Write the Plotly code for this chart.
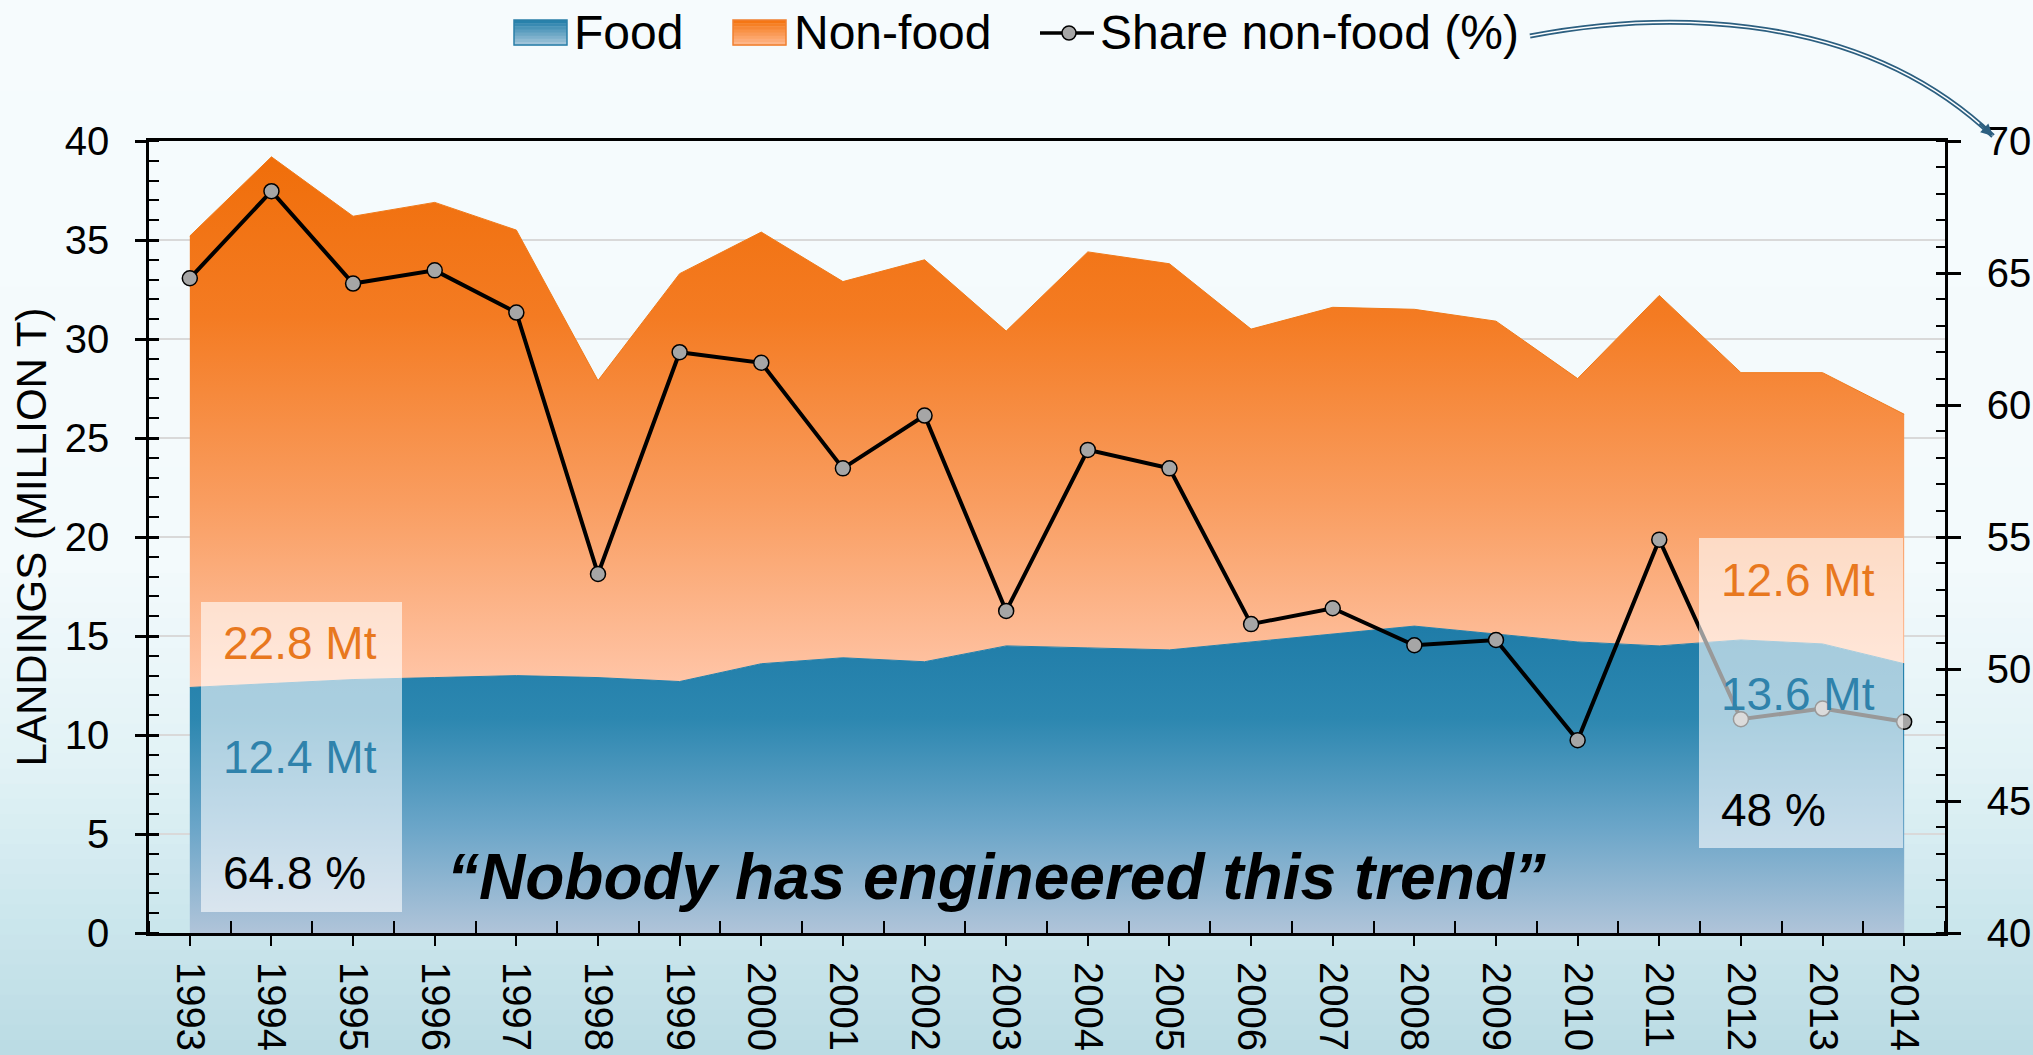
import plotly.graph_objects as go

# -----------------------------
# Data (million tonnes / %)
# -----------------------------
years = list(range(1993, 2015))
year_labels = [str(y) for y in years]

food = [12.4, 12.6, 12.8, 12.9, 13.0, 12.9, 12.7, 13.6, 13.9, 13.7, 14.5,
        14.4, 14.3, 14.7, 15.1, 15.5, 15.1, 14.7, 14.5, 14.8, 14.6, 13.6]
non_food = [22.8, 26.6, 23.4, 24.0, 22.5, 15.0, 20.6, 21.8, 19.0, 20.3, 15.9,
            20.0, 19.5, 15.8, 16.5, 16.0, 15.8, 13.3, 17.7, 13.5, 13.7, 12.6]
share_non_food = [64.8, 68.1, 64.6, 65.1, 63.5, 53.6, 62.0, 61.6, 57.6, 59.6, 52.2,
                  58.3, 57.6, 51.7, 52.3, 50.9, 51.1, 47.3, 54.9, 48.1, 48.5, 48.0]

FONT = "Liberation Sans"
ORANGE_TXT = "#E8781E"
BLUE_TXT = "#2F82AB"
ARROW = "#2C5F80"

W, H = 2033, 1055
ML, MR, MT, MB = 149, 88, 141, 122
PW, PH = W - ML - MR, H - MT - MB


def px_x(x):
    return (x - ML) / PW


def px_y(y):
    return (H - MB - y) / PH


def lerp_rgb(c0, c1, t):
    return "rgb(%d,%d,%d)" % tuple(round(a + (b - a) * t) for a, b in zip(c0, c1))


fig = go.Figure()

# -----------------------------
# Stacked areas
# -----------------------------
fig.add_trace(go.Scatter(
    x=years, y=food, name="Food", stackgroup="one", mode="lines",
    line=dict(width=1, color="#2380AB"), showlegend=False,
    fillgradient=dict(type="vertical", start=0, stop=15.5,
                      colorscale=[[0, "#B0C4D9"], [0.35, "#6AA5C8"],
                                  [0.7, "#2C87B0"], [1, "#1F7CA8"]]),
))
fig.add_trace(go.Scatter(
    x=years, y=non_food, name="Non-food", stackgroup="one", mode="lines",
    line=dict(width=1, color="#F07A1A"), showlegend=False,
    fillgradient=dict(type="vertical", start=12.4, stop=39.2,
                      colorscale=[[0, "#FFC6A9"], [0.35, "#F99D60"],
                                  [0.7, "#F47B22"], [1, "#F06E0A"]]),
))

# -----------------------------
# Share line (right axis)
# -----------------------------
fig.add_trace(go.Scatter(
    x=years, y=share_non_food, name="Share non-food (%)", yaxis="y2",
    mode="lines+markers", showlegend=False,
    line=dict(color="black", width=4),
    marker=dict(size=15, color="#A6A6A6", line=dict(color="black", width=1.5)),
))

# invisible traces so the "crossing" major tick halves get drawn
fig.add_trace(go.Scatter(x=[None], y=[None], yaxis="y3", showlegend=False, hoverinfo="skip"))
fig.add_trace(go.Scatter(x=[None], y=[None], yaxis="y4", showlegend=False, hoverinfo="skip"))

# -----------------------------
# Background gradient bands
# -----------------------------
stops = [(0, (246, 251, 253)), (560, (243, 250, 252)), (760, (226, 242, 246)),
         (900, (206, 232, 238)), (1055, (186, 219, 228))]


def bg_color(y):
    for (y0, c0), (y1, c1) in zip(stops[:-1], stops[1:]):
        if y0 <= y <= y1:
            return lerp_rgb(c0, c1, (y - y0) / (y1 - y0))
    return lerp_rgb(stops[-1][1], stops[-1][1], 0)


shapes = []
n_bands = 70
for i in range(n_bands):
    y0 = H * i / n_bands
    y1 = H * (i + 1) / n_bands + 1
    shapes.append(dict(type="rect", xref="paper", yref="paper", layer="below",
                       x0=px_x(0), x1=px_x(W), y0=px_y(y1), y1=px_y(y0),
                       fillcolor=bg_color((y0 + y1) / 2), line=dict(width=0)))

# white highlight boxes
for x0, x1, y0, y1 in [(201, 402, 602, 912), (1699, 1903, 538, 848)]:
    shapes.append(dict(type="rect", xref="paper", yref="paper", layer="above",
                       x0=px_x(x0), x1=px_x(x1), y0=px_y(y1), y1=px_y(y0),
                       fillcolor="rgba(255,255,255,0.6)", line=dict(width=0)))

# curved connector from legend to right axis
curve = "M %f,%f C %f,%f %f,%f %f,%f" % (
    px_x(1530), px_y(36), px_x(1640), px_y(15),
    px_x(1850), px_y(0), px_x(1993), px_y(136))
shapes.append(dict(type="path", xref="paper", yref="paper", path=curve,
                   line=dict(color=ARROW, width=5), layer="above"))
shapes.append(dict(type="path", xref="paper", yref="paper", path=curve,
                   line=dict(color="white", width=1.5), layer="above"))

# -----------------------------
# Legend (drawn by hand: gradient swatches)
# -----------------------------
def swatch(x0, x1, top, bottom, edge):
    n = 8
    for i in range(n):
        ya = 20 + 25 * i / n
        yb = 20 + 25 * (i + 1) / n
        shapes.append(dict(type="rect", xref="paper", yref="paper", layer="above",
                           x0=px_x(x0), x1=px_x(x1), y0=px_y(yb + 0.5), y1=px_y(ya),
                           fillcolor=lerp_rgb(top, bottom, (i + 0.5) / n), line=dict(width=0)))
    shapes.append(dict(type="rect", xref="paper", yref="paper", layer="above",
                       x0=px_x(x0), x1=px_x(x1), y0=px_y(45), y1=px_y(20),
                       line=dict(color=edge, width=1.5)))


swatch(514, 567, (31, 124, 168), (168, 200, 220), "#2A7FA8")
swatch(733, 786, (244, 114, 12), (255, 186, 145), "#F08030")
shapes.append(dict(type="line", xref="paper", yref="paper", layer="above",
                   x0=px_x(1040), x1=px_x(1094), y0=px_y(33), y1=px_y(33),
                   line=dict(color="black", width=3.5)))
shapes.append(dict(type="circle", xref="paper", yref="paper", layer="above",
                   x0=px_x(1062), x1=px_x(1076), y0=px_y(40), y1=px_y(26),
                   fillcolor="#A6A6A6", line=dict(color="black", width=1.5)))

# -----------------------------
# Annotations
# -----------------------------
def label(text, x, y, color, size=46, anchor="left", **kw):
    return dict(text=text, xref="paper", yref="paper", x=px_x(x), y=px_y(y),
                xanchor=anchor, yanchor="middle", showarrow=False,
                font=dict(family=FONT, size=size, color=color), **kw)


annotations = [
    label("Food", 572, 33, "black", size=48),
    label("Non-food", 792, 33, "black", size=48),
    label("Share non-food (%)", 1098, 33, "black", size=48),
    label("22.8 Mt", 221, 643, ORANGE_TXT),
    label("12.4 Mt", 221, 757, BLUE_TXT),
    label("64.8 %", 221, 873, "black"),
    label("12.6 Mt", 1719, 580, ORANGE_TXT),
    label("13.6 Mt", 1719, 694, BLUE_TXT),
    label("48 %", 1719, 810, "black"),
    label("<b><i>“Nobody has engineered this trend”</i></b>", 996, 877, "black",
          size=64, anchor="center"),
    dict(text="", xref="paper", yref="paper", x=px_x(1993), y=px_y(136),
         showarrow=True, ax=-15, ay=-14, arrowhead=2, arrowsize=1.2,
         arrowwidth=2, arrowcolor=ARROW),
]

# -----------------------------
# Layout
# -----------------------------
tick_font = dict(family=FONT, size=40)
fig.update_layout(
    width=W, height=H,
    margin=dict(l=ML, r=MR, t=MT, b=MB, autoexpand=False),
    paper_bgcolor="rgb(246,251,253)",
    plot_bgcolor="rgba(0,0,0,0)",
    font=dict(family=FONT, color="black"),
    shapes=shapes,
    annotations=annotations,
    showlegend=False,
    xaxis=dict(
        range=[1992.5, 2014.5], tickmode="array", tickvals=years, ticktext=year_labels,
        tickangle=90, ticks="outside", ticklen=10, tickwidth=2, tickcolor="black",
        showline=True, linewidth=3, linecolor="black", mirror=True,
        showgrid=False, zeroline=False, ticklabelstandoff=8, tickfont=tick_font,
        minor=dict(tick0=1992.5, dtick=1, ticks="inside", ticklen=12,
                   tickwidth=1.5, tickcolor="black", showgrid=False),
    ),
    yaxis=dict(
        range=[0, 40], dtick=5, ticks="outside", ticklen=11, tickwidth=2.5,
        tickcolor="black", showline=True, linewidth=2.5, linecolor="black",
        showgrid=True, gridcolor="#D9D9D9", gridwidth=1.5, zeroline=False,
        ticklabelstandoff=18, tickfont=tick_font,
        title=dict(text="LANDINGS (MILLION T)", font=dict(family=FONT, size=42), standoff=6),
        minor=dict(dtick=1, ticks="inside", ticklen=10, tickwidth=2,
                   tickcolor="black", showgrid=False),
    ),
    yaxis2=dict(
        range=[40, 70], dtick=5, overlaying="y", side="right",
        ticks="outside", ticklen=13, tickwidth=2.5, tickcolor="black",
        showline=True, linewidth=2.5, linecolor="black", showgrid=False,
        zeroline=False, ticklabelstandoff=18, tickfont=tick_font,
        minor=dict(dtick=1, ticks="inside", ticklen=9, tickwidth=2,
                   tickcolor="black", showgrid=False),
    ),
    yaxis3=dict(
        range=[0, 40], dtick=5, overlaying="y", side="left", ticks="inside",
        ticklen=10, tickwidth=2.5, tickcolor="black", showticklabels=False,
        showgrid=False, showline=False, zeroline=False,
    ),
    yaxis4=dict(
        range=[40, 70], dtick=5, overlaying="y", side="right", ticks="inside",
        ticklen=9, tickwidth=2.5, tickcolor="black", showticklabels=False,
        showgrid=False, showline=False, zeroline=False,
    ),
)

fig.write_html("out.html", config={"displayModeBar": False},
               post_script="document.body.style.margin='0';")
